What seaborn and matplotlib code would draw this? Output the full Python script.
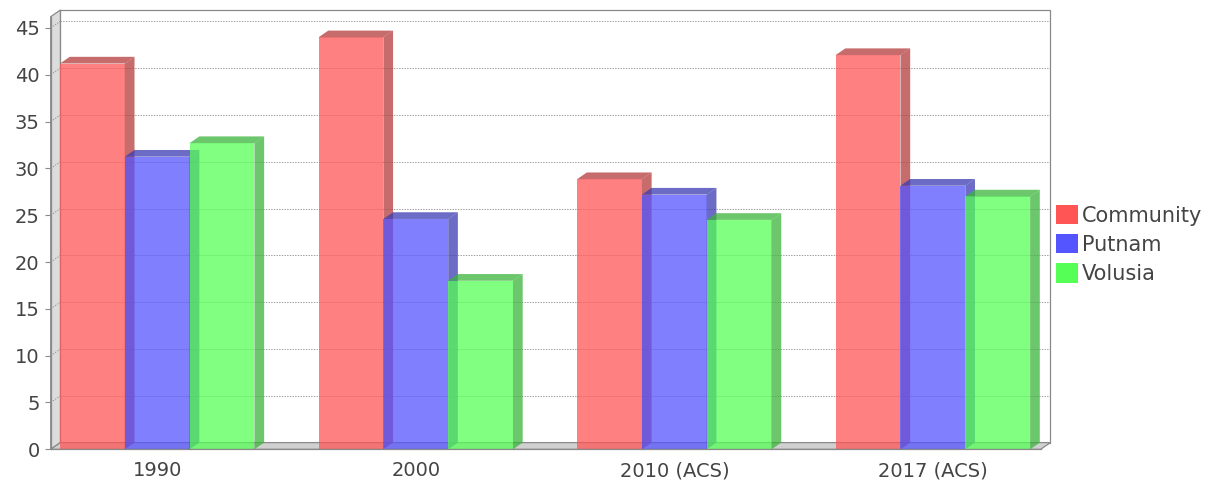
import matplotlib
matplotlib.use("Agg")
import matplotlib.pyplot as plt
import seaborn as sns
import pandas as pd
import numpy as np
from matplotlib.patches import Polygon, Patch
from matplotlib.colors import to_rgb

# chart values
years = ["1990", "2000", "2010 (ACS)", "2017 (ACS)"]
community = [41.2, 44.0, 28.85, 42.1]
putnam = [31.25, 24.6, 27.2, 28.15]
volusia = [32.7, 18.0, 24.5, 27.0]
series_names = ["Community", "Putnam", "Volusia"]
series_colors = ["#ff5555", "#5555ff", "#55ff55"]

rows = []
for name, vals in zip(series_names, [community, putnam, volusia]):
    for yr, v in zip(years, vals):
        rows.append({"year": yr, "series": name, "value": v})
df = pd.DataFrame(rows)

sns.set_style("white")
plt.rcParams["font.family"] = ["DejaVu Sans"]

W, H = 1223, 480
fig = plt.figure(figsize=(W / 100, H / 100), dpi=100)

# front face of the plot area in pixels
px_left, px_right = 50.7, 1040.7
px_bottom, px_top = 449.3, 16.7
ax = fig.add_axes([px_left / W, 1 - px_bottom / H,
                   (px_right - px_left) / W, (px_bottom - px_top) / H])

xmin, xmax = -0.412, 3.417
ymin, ymax = 0, 46.2
dx = 9.7 * (xmax - xmin) / (px_right - px_left)
dy = 6.7 * (ymax - ymin) / (px_bottom - px_top)

sns.barplot(data=df, x="year", y="value", hue="series", palette=series_colors,
            width=0.752, alpha=0.75, saturation=1, linewidth=0, ax=ax, legend=False)
ax.set_xlim(xmin, xmax)
ax.set_ylim(ymin, ymax)

grey = "#8a8a8a"
# back wall, left wall, floor
ax.add_patch(Polygon([(xmin + dx, dy), (xmax + dx, dy), (xmax + dx, ymax + dy),
                      (xmin + dx, ymax + dy)], closed=True, facecolor="white",
                     edgecolor=grey, linewidth=0.9, zorder=0.5, clip_on=False))
ax.add_patch(Polygon([(xmin, 0), (xmin + dx, dy), (xmin + dx, ymax + dy), (xmin, ymax)],
                     closed=True, facecolor="#dcdcdc", edgecolor=grey,
                     linewidth=0.9, zorder=0.6, clip_on=False))
ax.add_patch(Polygon([(xmin, 0), (xmax, 0), (xmax + dx, dy), (xmin + dx, dy)],
                     closed=True, facecolor="#d0d0d0", edgecolor=grey,
                     linewidth=0.9, zorder=0.6, clip_on=False))

# gridlines on the back wall
yticks = np.arange(0, 50, 5)
for t in yticks[1:]:
    ax.plot([xmin + dx, xmax + dx], [t + dy, t + dy], color="#8c8c8c",
            linewidth=0.6, linestyle=(0, (1.6, 1.6)), zorder=0.8, clip_on=False)
    ax.plot([xmin, xmin + dx], [t, t + dy], color="#8c8c8c",
            linewidth=0.6, linestyle=(0, (1.6, 1.6)), zorder=0.8, clip_on=False)

# 3D sides and tops for each bar
n_cat = len(years)
for i, bar in enumerate(ax.patches[:len(series_names) * n_cat]):
    s = i // n_cat
    base = np.array(to_rgb(series_colors[s]))
    dark = tuple(base * 0.7)
    z = 2 + s
    bar.set_zorder(z)
    x0, w, h = bar.get_x(), bar.get_width(), bar.get_height()
    side = Polygon([(x0 + w, 0), (x0 + w + dx, dy), (x0 + w + dx, h + dy), (x0 + w, h)],
                   closed=True, facecolor=dark, alpha=0.75, linewidth=0, zorder=z,
                   clip_on=False)
    top = Polygon([(x0, h), (x0 + dx, h + dy), (x0 + w + dx, h + dy), (x0 + w, h)],
                  closed=True, facecolor=dark, alpha=0.75, linewidth=0, zorder=z,
                  clip_on=False)
    ax.add_patch(side)
    ax.add_patch(top)

# axes styling
for sp in ["top", "right"]:
    ax.spines[sp].set_visible(False)
for sp in ["left", "bottom"]:
    ax.spines[sp].set_color(grey)
    ax.spines[sp].set_linewidth(0.9)
    ax.spines[sp].set_zorder(10)
ax.set_yticks(yticks)
ax.set_yticklabels([str(t) for t in yticks])
ax.tick_params(axis="y", left=True, length=4, width=0.8, color=grey,
               labelsize=14, labelcolor="#444444", pad=4)
ax.tick_params(axis="x", bottom=False, labelsize=14, labelcolor="#444444", pad=5)
ax.set_xlabel("")
ax.set_ylabel("")
ax.set_facecolor("none")

handles = [Patch(facecolor=c, edgecolor="none") for c in series_colors]
fig.legend(handles, series_names, loc="upper left",
           bbox_to_anchor=(1056 / W, 1 - 205 / H), frameon=False, fontsize=15,
           labelcolor="#444444", handlelength=1.05, handleheight=1.05,
           handletextpad=0.2, labelspacing=0.4, borderpad=0, borderaxespad=0)

fig.savefig("out.png", dpi=100)
